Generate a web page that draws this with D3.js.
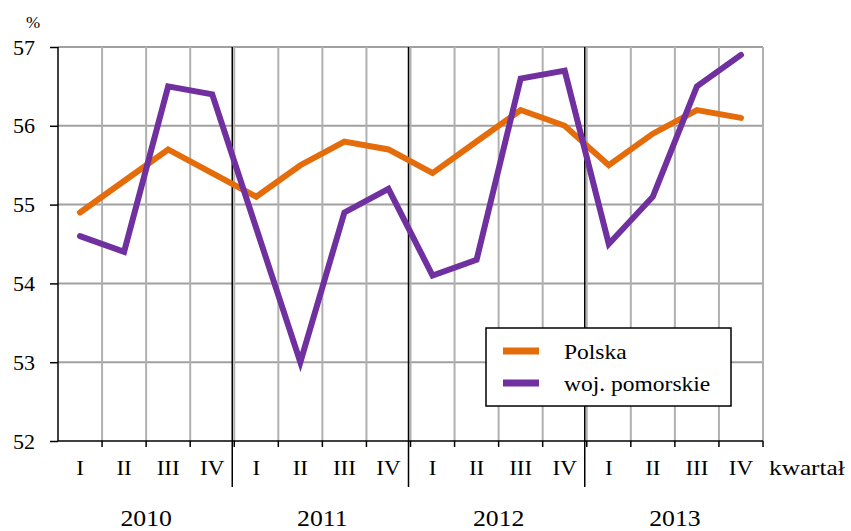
<!DOCTYPE html>
<html>
<head>
<meta charset="utf-8">
<script src="https://cdn.jsdelivr.net/npm/d3@7"></script>
<style>
  body { margin: 0; background: #fff; }
</style>
</head>
<body>
<svg id="chart" width="851" height="531"></svg>
<script>
const years = ["2010", "2011", "2012", "2013"]
const quarters = ["I", "II", "III", "IV"]
const polska = [54.9, 55.3, 55.7, 55.4, 55.1, 55.5, 55.8, 55.7, 55.4, 55.8, 56.2, 56.0, 55.5, 55.9, 56.2, 56.1]
const pomorskie = [54.6, 54.4, 56.5, 56.4, 54.7, 53.0, 54.9, 55.2, 54.1, 54.3, 56.6, 56.7, 54.5, 55.1, 56.5, 56.9]
const yTicks = [52, 53, 54, 55, 56, 57]

const series = [
  { name: "Polska", values: polska, color: "#e46c0a" },
  { name: "woj. pomorskie", values: pomorskie, color: "#7030a0" },
]

const FONT = "Liberation Serif"
const svg = d3.select("#chart")
const margin = { left: 58, right: 88, top: 47, bottom: 90 }
const width = 851 - margin.left - margin.right
const height = 531 - margin.top - margin.bottom

const slots = d3.range(16)
const x = d3.scaleBand().domain(slots).range([0, width])
const y = d3.scaleLinear().domain([52, 57]).range([height, 0])

const g = svg.append("g").attr("transform", `translate(${margin.left},${margin.top})`)

// the source picture is a bit wider than tall, so text is stretched slightly
const stretched = (sel, px, py, sx) =>
  sel.attr("transform", (d, i) => `translate(${px(d, i)},${py(d, i)}) scale(${sx},1)`)

// horizontal grid
g.selectAll(".hgrid")
  .data(yTicks.slice(1))
  .enter()
  .append("line")
  .attr("x1", 0)
  .attr("x2", width)
  .attr("y1", (d) => y(d))
  .attr("y2", (d) => y(d))
  .attr("stroke", "#a0a0a0")
  .attr("stroke-width", 2)

// vertical grid at every quarter boundary
const bounds = d3.range(1, 17)
g.selectAll(".vgrid")
  .data(bounds)
  .enter()
  .append("line")
  .attr("x1", (d) => d * x.step())
  .attr("x2", (d) => d * x.step())
  .attr("y1", 0)
  .attr("y2", height)
  .attr("stroke", "#b0b0b0")
  .attr("stroke-width", 2)

// year separators
g.selectAll(".sep")
  .data([4, 8, 12])
  .enter()
  .append("line")
  .attr("x1", (d) => d * x.step() - 2)
  .attr("x2", (d) => d * x.step() - 2)
  .attr("y1", 0)
  .attr("y2", height + 46)
  .attr("stroke", "#000")
  .attr("stroke-width", 1.5)

// y axis
const yAxis = g.append("g")
  .call(d3.axisLeft(y).tickValues(yTicks).tickFormat(d3.format("d")).tickSize(8).tickPadding(15))
yAxis.select(".domain").attr("stroke", "#000").attr("stroke-width", 1.5).attr("d", `M0,0V${height}`)
yAxis.selectAll(".tick line").attr("stroke", "#000").attr("stroke-width", 1.5)
yAxis.selectAll("text")
  .attr("fill", "#000")
  .style("font-size", "22px")
  .style("font-family", FONT)

// x axis line and ticks
g.append("line")
  .attr("x1", 0).attr("x2", width)
  .attr("y1", height).attr("y2", height)
  .attr("stroke", "#000").attr("stroke-width", 1.5)
g.selectAll(".xtick")
  .data(bounds)
  .enter()
  .append("line")
  .attr("x1", (d) => d * x.step())
  .attr("x2", (d) => d * x.step())
  .attr("y1", height)
  .attr("y2", height + 6)
  .attr("stroke", "#000")
  .attr("stroke-width", 1.5)

// quarter labels
g.selectAll(".qlabel")
  .data(slots)
  .enter()
  .append("text")
  .call(stretched, (d) => x(d) + x.bandwidth() / 2, () => height + 34, 1.1)
  .attr("text-anchor", "middle")
  .style("font-size", "21px")
  .style("font-family", FONT)
  .text((d) => quarters[d % 4])

g.append("text")
  .datum(0)
  .call(stretched, () => width + 6, () => height + 34, 1.15)
  .style("font-size", "22px")
  .style("font-family", FONT)
  .text("kwartał")

// year labels
g.selectAll(".ylabel")
  .data(years)
  .enter()
  .append("text")
  .call(stretched, (d, i) => x(i * 4) + 2 * x.step(), () => height + 85, 1.12)
  .attr("text-anchor", "middle")
  .style("font-size", "23px")
  .style("font-family", FONT)
  .text((d) => d)

svg.append("text")
  .attr("x", 26)
  .attr("y", 28)
  .style("font-size", "17px")
  .style("font-family", FONT)
  .text("%")

// lines
const line = d3.line()
  .x((d, i) => x(i) + x.bandwidth() / 2)
  .y((d) => y(d))

g.selectAll(".series")
  .data(series)
  .enter()
  .append("path")
  .attr("d", (d) => line(d.values))
  .attr("fill", "none")
  .attr("stroke", (d) => d.color)
  .attr("stroke-width", 6)
  .attr("stroke-linejoin", "miter")
  .attr("stroke-linecap", "round")

// legend
const legend = svg.append("g").attr("transform", "translate(486,328)")
legend.append("rect")
  .attr("width", 245).attr("height", 78)
  .attr("fill", "#fff").attr("stroke", "#000").attr("stroke-width", 1.5)
legend.selectAll(".li")
  .data(series)
  .enter()
  .append("line")
  .attr("x1", 17).attr("x2", 53)
  .attr("y1", (d, i) => 23 + i * 32)
  .attr("y2", (d, i) => 23 + i * 32)
  .attr("stroke", (d) => d.color)
  .attr("stroke-width", 7)
legend.selectAll(".lt")
  .data(series)
  .enter()
  .append("text")
  .call(stretched, () => 78, (d, i) => 31 + i * 32, 1.12)
  .style("font-size", "21px")
  .style("font-family", FONT)
  .text((d) => d.name)
</script>
</body>
</html>
